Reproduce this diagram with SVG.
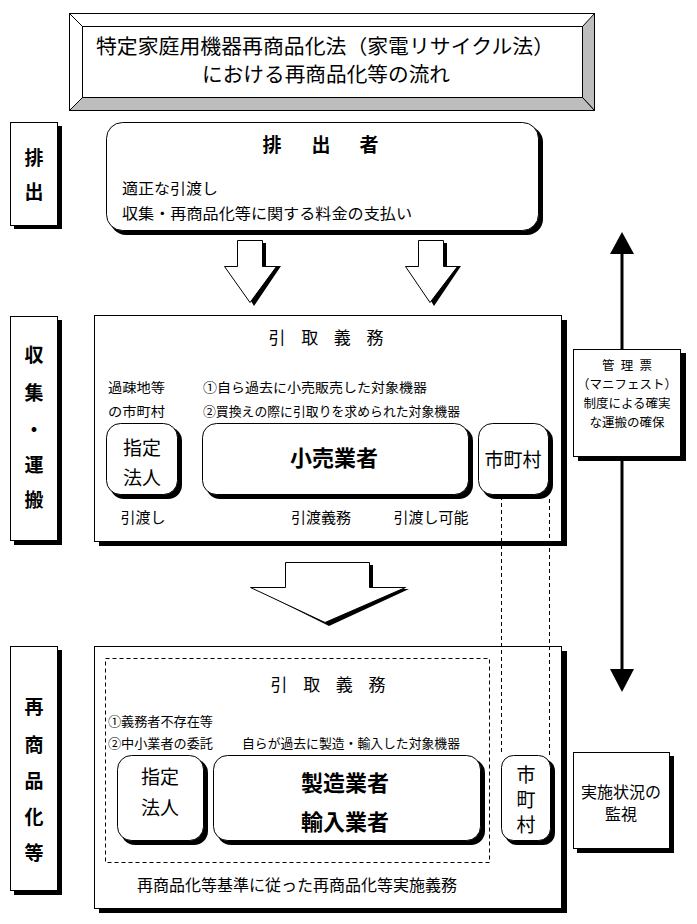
<svg xmlns="http://www.w3.org/2000/svg" width="697" height="924" viewBox="0 0 697 924">
<defs>
<style>
text{font-family:"Noto Sans CJK JP","Noto Sans CJK SC",sans-serif;fill:#000}
.box{fill:#fff;stroke:#000;stroke-width:1}
.sh{fill:#000}
.c{text-anchor:middle}
.b{font-weight:bold}
.dash{fill:none;stroke:#000;stroke-width:1;stroke-dasharray:4,3}
.ln{stroke:#000;stroke-width:3;fill:none}
</style>
</defs>
<rect width="697" height="924" fill="#fff"/>

<g id="title">
<rect x="69.5" y="13.5" width="525" height="97" fill="#fff" stroke="#000"/>
<polygon points="594.5,13.5 594.5,110.5 582.5,97.5 582.5,26.5" fill="#bdbdbd" stroke="#000" stroke-width="1"/>
<polygon points="69.5,110.5 594.5,110.5 582.5,97.5 82.5,97.5" fill="#bdbdbd" stroke="#000" stroke-width="1"/>
<line x1="69.5" y1="13.5" x2="82.5" y2="26.5" stroke="#000"/>
<rect x="82.5" y="26.5" width="500" height="71" fill="#fff" stroke="#000"/>
<text x="325" y="54" class="c" font-size="20" textLength="458" lengthAdjust="spacingAndGlyphs">特定家庭用機器再商品化法（家電リサイクル法）</text>
<text x="326" y="82" class="c" font-size="20" textLength="248" lengthAdjust="spacingAndGlyphs">における再商品化等の流れ</text>
</g>

<g id="label-haishutsu">
<rect class="sh" x="14" y="126" width="48" height="103"/>
<rect class="box" x="10.5" y="122.5" width="47" height="103"/>
<text x="34" y="165" class="c b" font-size="19">排</text>
<text x="34" y="199" class="c b" font-size="19">出</text>
</g>

<g id="haishutsusha">
<rect class="sh" x="110" y="126" width="433" height="109" rx="16"/>
<rect class="box" x="106.5" y="122.5" width="432" height="108" rx="16"/>
<text x="272" y="152" class="c b" font-size="19">排</text>
<text x="321" y="152" class="c b" font-size="19">出</text>
<text x="369" y="152" class="c b" font-size="19">者</text>
<text x="122" y="194" font-size="15" textLength="96" lengthAdjust="spacingAndGlyphs">適正な引渡し</text>
<text x="122" y="219" font-size="15" textLength="290" lengthAdjust="spacingAndGlyphs">収集・再商品化等に関する料金の支払い</text>
</g>

<g id="label-shushu">
<rect class="sh" x="14" y="320" width="48" height="225"/>
<rect class="box" x="10.5" y="316.5" width="47" height="224"/>
<text x="34" y="362" class="c b" font-size="19">収</text>
<text x="34" y="400" class="c b" font-size="19">集</text>
<text x="34" y="437" class="c b" font-size="19">・</text>
<text x="34" y="472" class="c b" font-size="19">運</text>
<text x="34" y="507" class="c b" font-size="19">搬</text>
</g>

<g id="shushu-area">
<rect class="sh" x="99" y="320" width="468" height="226"/>
<rect class="box" x="94.5" y="315.5" width="467" height="226"/>
<text x="326" y="344" class="c" font-size="17" textLength="115" lengthAdjust="spacing">引 取 義 務</text>
<text x="108" y="392" font-size="13" textLength="57" lengthAdjust="spacingAndGlyphs">過疎地等</text>
<text x="108" y="416" font-size="13" textLength="57" lengthAdjust="spacingAndGlyphs">の市町村</text>
<text x="203" y="392" font-size="13" textLength="224" lengthAdjust="spacingAndGlyphs">①自ら過去に小売販売した対象機器</text>
<text x="203" y="416" font-size="13" textLength="257" lengthAdjust="spacingAndGlyphs">②買換えの際に引取りを求められた対象機器</text>
<text x="143" y="523" class="c" font-size="15">引渡し</text>
<text x="321" y="523" class="c" font-size="15">引渡義務</text>
<text x="431" y="523" class="c" font-size="15">引渡し可能</text>
</g>

<g id="shitei-hojin-1">
<rect class="sh" x="110" y="427" width="72" height="72" rx="14"/>
<rect class="box" x="106.5" y="423.5" width="71" height="71" rx="14"/>
<text x="142" y="455" class="c" font-size="19">指定</text>
<text x="142" y="485" class="c" font-size="19">法人</text>
</g>

<g id="kouri">
<rect class="sh" x="206" y="427" width="267" height="72" rx="14"/>
<rect class="box" x="202.5" y="423.5" width="266" height="71" rx="14"/>
<text x="334" y="466" class="c b" font-size="22">小売業者</text>
</g>

<g id="shichoson-1">
<rect class="sh" x="482" y="427" width="71" height="72" rx="14"/>
<rect class="box" x="478.5" y="423.5" width="70" height="71" rx="14"/>
<text x="513" y="467" class="c" font-size="19">市町村</text>
</g>

<g id="label-saishohin">
<rect class="sh" x="14" y="650" width="48" height="245"/>
<rect class="box" x="10.5" y="646.5" width="47" height="244"/>
<text x="34" y="714" class="c b" font-size="19">再</text>
<text x="34" y="752" class="c b" font-size="19">商</text>
<text x="34" y="788" class="c b" font-size="19">品</text>
<text x="34" y="824" class="c b" font-size="19">化</text>
<text x="34" y="860" class="c b" font-size="19">等</text>
</g>

<g id="saishohin-area">
<rect class="sh" x="99" y="651" width="468" height="262"/>
<rect class="box" x="94.5" y="646.5" width="467" height="262"/>
<rect class="dash" x="105.5" y="658.5" width="384" height="204"/>
<text x="328" y="691" class="c" font-size="17" textLength="115" lengthAdjust="spacing">引 取 義 務</text>
<text x="108" y="726" font-size="13" textLength="105" lengthAdjust="spacingAndGlyphs">①義務者不存在等</text>
<text x="108" y="748" font-size="13" textLength="105" lengthAdjust="spacingAndGlyphs">②中小業者の委託</text>
<text x="242" y="748" font-size="13" textLength="218" lengthAdjust="spacingAndGlyphs">自らが過去に製造・輸入した対象機器</text>
<text x="297" y="891" font-size="16" textLength="320" lengthAdjust="spacingAndGlyphs" text-anchor="middle">再商品化等基準に従った再商品化等実施義務</text>
</g>

<g id="shitei-hojin-2">
<rect class="sh" x="121" y="759" width="87" height="86" rx="14"/>
<rect class="box" x="117.5" y="755.5" width="86" height="85" rx="14"/>
<text x="160" y="784" class="c" font-size="19">指定</text>
<text x="160" y="815" class="c" font-size="19">法人</text>
</g>

<g id="seizou">
<rect class="sh" x="217" y="759" width="268" height="86" rx="14"/>
<rect class="box" x="213.5" y="755.5" width="267" height="85" rx="14"/>
<text x="345" y="791" class="c b" font-size="22">製造業者</text>
<text x="345" y="830" class="c b" font-size="22">輸入業者</text>
</g>

<g id="shichoson-2">
<rect class="sh" x="505" y="759" width="50" height="86" rx="12"/>
<rect class="box" x="501.5" y="755.5" width="49" height="85" rx="12"/>
<text x="526" y="782" class="c" font-size="19">市</text>
<text x="526" y="807" class="c" font-size="19">町</text>
<text x="526" y="832" class="c" font-size="19">村</text>
</g>

<g id="manifest">
<rect class="sh" x="578" y="353" width="108" height="108"/>
<rect class="box" x="573.5" y="349.5" width="107" height="107"/>
<text x="627" y="370" class="c" font-size="12.5" textLength="50" lengthAdjust="spacing">管 理 票</text>
<text x="627" y="389" class="c" font-size="12.5">（マニフェスト）</text>
<text x="627" y="408" class="c" font-size="12.5">制度による確実</text>
<text x="627" y="427" class="c" font-size="12.5">な運搬の確保</text>
</g>

<g id="kanshi">
<rect class="sh" x="577" y="756" width="97" height="97"/>
<rect class="box" x="573.5" y="752.5" width="96" height="96"/>
<text x="621" y="798" class="c" font-size="16">実施状況の</text>
<text x="621" y="820" class="c" font-size="16">監視</text>
</g>

<g id="connectors">
<!-- small block arrows -->
<polygon points="241,243 266,243 266,266 281,266 254,306 230,266 241,266" fill="#000"/>
<polygon points="237.5,240.5 262.5,240.5 262.5,266.5 276.5,266.5 250,302.5 224.5,266.5 237.5,266.5" fill="#fff" stroke="#000"/>
<polygon points="422,243 447,243 447,266 461,266 434,306 410,266 422,266" fill="#000"/>
<polygon points="418.5,240.5 443.5,240.5 443.5,266.5 457.5,266.5 430,302.5 405.5,266.5 418.5,266.5" fill="#fff" stroke="#000"/>
<!-- big block arrow -->
<polygon points="289,565 373,565 373,589 409,589 329,626 255,589 289,589" fill="#000"/>
<polygon points="285.5,562.5 369.5,562.5 369.5,587.5 405.5,587.5 325,622.5 250.5,587.5 285.5,587.5" fill="#fff" stroke="#000"/>
<!-- dashed lines to lower 市町村 -->
<line class="dash" x1="501.5" y1="496" x2="501.5" y2="755"/>
<line class="dash" x1="549.5" y1="499" x2="549.5" y2="755"/>
<!-- vertical arrows -->
<line class="ln" x1="622" y1="250" x2="622" y2="349"/>
<polygon points="622,232 610,254 634,254" fill="#000"/>
<line class="ln" x1="622" y1="457" x2="622" y2="672"/>
<polygon points="622,692 610,669 634,669" fill="#000"/>
</g>
</svg>
